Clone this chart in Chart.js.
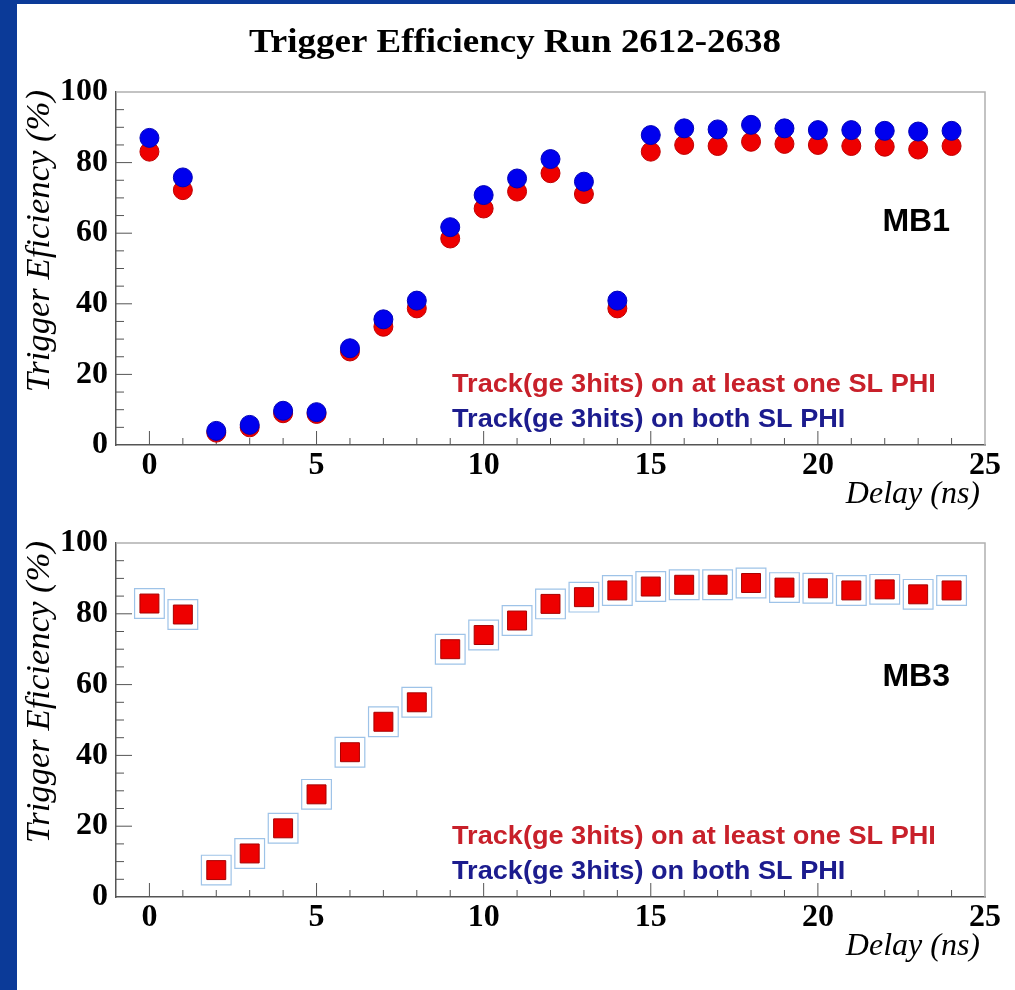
<!DOCTYPE html>
<html><head><meta charset="utf-8">
<script src="https://cdn.jsdelivr.net/npm/chart.js@4.4.1/dist/chart.umd.min.js"></script>
<style>
html,body{margin:0;padding:0;width:1015px;height:990px;overflow:hidden;background:#0b3a98;}
#panel{position:absolute;left:17px;top:4px;width:998px;height:986px;background:#fff;}
.wrap{position:absolute;left:0;width:1015px;}
#w1{top:0;height:515px;}
#w2{top:515px;height:475px;}
canvas{display:block;}
</style></head><body>
<div id="panel"></div>
<div class="wrap" id="w1"><canvas id="c1"></canvas></div>
<div class="wrap" id="w2"><canvas id="c2"></canvas></div>
<script>
// ---- data ----
const delays = [0,1,2,3,4,5,6,7,8,9,10,11,12,13,14,15,16,17,18,19,20,21,22,23,24];
const mb1AtLeastOne = [83.1,72.2,3.5,5.0,9.0,8.8,26.5,33.5,38.7,58.5,67.0,71.8,77.0,71.1,38.7,83.1,85.0,84.7,85.9,85.3,85.0,84.7,84.5,83.7,84.7];
const mb1Both       = [87.0,75.8,4.0,5.7,9.7,9.3,27.4,35.6,40.9,61.7,70.8,75.5,81.0,74.6,40.9,87.8,89.7,89.4,90.7,89.7,89.2,89.2,89.0,88.8,89.0];
const mb3AtLeastOne = [82.9,79.8,7.6,12.3,19.4,29.0,40.9,49.5,55.0,70.0,74.0,78.1,82.8,84.7,86.6,87.7,88.2,88.2,88.7,87.4,87.2,86.6,86.9,85.5,86.6];
const mb3Both       = [82.9,79.8,7.6,12.3,19.4,29.0,40.9,49.5,55.0,70.0,74.0,78.1,82.8,84.7,86.6,87.7,88.2,88.2,88.7,87.4,87.2,86.6,86.9,85.5,86.6];
const xTickValues = [0,5,10,15,20,25];
const yTickValues = [0,20,40,60,80,100];
const mainTitle = 'Trigger Efficiency Run 2612-2638';
const yTitle = 'Trigger Eficiency (%)';
const xTitle = 'Delay (ns)';
const labelAtLeastOne = 'Track(ge 3hits) on at least one SL PHI';
const labelBoth = 'Track(ge 3hits) on both SL PHI';

const toXY = (arr) => delays.map((d,i)=>({x:d, y:arr[i]}));

const tickFont = {family:'Liberation Serif', size:32, weight:'bold'};
function makeScales(xH){
  return {
    x:{type:'linear', min:-1, max:25,
       afterFit(s){ s.height = xH; },
       afterBuildTicks(s){ s.ticks = xTickValues.map(v=>({value:v})); },
       grid:{display:false, drawTicks:false},
       border:{display:true, color:'#555', width:1.5},
       ticks:{autoSkip:false, maxRotation:0, padding:2, color:'#000', font:tickFont}},
    y:{type:'linear', min:0, max:100,
       afterFit(s){ s.width = 116; },
       afterBuildTicks(s){ s.ticks = yTickValues.map(v=>({value:v})); },
       grid:{display:false, drawTicks:false},
       border:{display:true, color:'#555', width:1.5},
       ticks:{padding:8, color:'#000', font:tickFont}}
  };
}

// draw text horizontally stretched by factor sx, anchored at (x,y)
function stretchText(ctx, text, x, y, sx, align){
  ctx.save();
  ctx.translate(x, y);
  ctx.scale(sx, 1);
  ctx.textAlign = align;
  ctx.fillText(text, 0, 0);
  ctx.restore();
}

const decor = {
  id:'decor',
  beforeDatasetsDraw(chart){
    const {ctx, chartArea:a, scales:{x,y}} = chart;
    ctx.save();
    ctx.strokeStyle = '#b0b0b0'; ctx.lineWidth = 1.5;
    ctx.beginPath(); ctx.moveTo(a.left,a.top); ctx.lineTo(a.right,a.top); ctx.lineTo(a.right,a.bottom); ctx.stroke();
    ctx.strokeStyle = '#555'; ctx.lineWidth = 1;
    ctx.beginPath();
    for (let v=0; v<=24; v++){
      const px = x.getPixelForValue(v), L = (v%5===0)?14:7;
      ctx.moveTo(px,a.bottom); ctx.lineTo(px,a.bottom-L);
    }
    for (let v=5; v<100; v+=5){
      const py = y.getPixelForValue(v), L = (v%20===0)?16:8;
      ctx.moveTo(a.left,py); ctx.lineTo(a.left+L,py);
    }
    ctx.stroke();
    ctx.restore();
  },
  afterDraw(chart, args, o){
    const {ctx, chartArea:a} = chart;
    ctx.save();
    ctx.fillStyle = '#000';
    ctx.textBaseline = 'alphabetic';
    if (o.title){
      ctx.font = 'bold 33px "Liberation Serif"';
      stretchText(ctx, mainTitle, 515, 52, 1.12, 'center');
    }
    // y axis title
    ctx.save();
    ctx.translate(40, a.top - 2);
    ctx.rotate(-Math.PI/2);
    ctx.font = 'italic 33px "Liberation Serif"';
    ctx.scale(1.05, 1);
    ctx.textAlign = 'right'; ctx.textBaseline = 'middle';
    ctx.fillText(yTitle, 0, 0);
    ctx.restore();
    // x axis title
    ctx.font = 'italic 32px "Liberation Serif"';
    ctx.textAlign = 'right';
    ctx.fillText(xTitle, a.right - 5, a.bottom + 58);
    // chamber label
    ctx.font = 'bold 32px "Liberation Sans"';
    ctx.fillText(o.chamber, 950, a.top + o.chamberDy);
    // legend lines
    ctx.font = 'bold 25px "Liberation Sans"';
    ctx.fillStyle = '#c8202a';
    stretchText(ctx, labelAtLeastOne, 452, a.bottom - 53, 1.085, 'left');
    ctx.fillStyle = '#1c1c8e';
    stretchText(ctx, labelBoth, 452, a.bottom - 18, 1.085, 'left');
    ctx.restore();
  }
};
Chart.register(decor);

const common = {
  responsive:true, maintainAspectRatio:false, animation:false,
  plugins:{legend:{display:false}, tooltip:{enabled:false}, title:{display:false}}
};

new Chart(document.getElementById('c1'), {
  type:'scatter',
  data:{datasets:[
    {label:labelBoth, data:toXY(mb1Both), pointStyle:'circle', pointRadius:9.5,
     backgroundColor:'#0000ee', borderColor:'#0000b8', borderWidth:1, order:0},
    {label:labelAtLeastOne, data:toXY(mb1AtLeastOne), pointStyle:'circle', pointRadius:9.5,
     backgroundColor:'#ee0000', borderColor:'#c00000', borderWidth:1, order:1}
  ]},
  options:Object.assign({}, common, {
    layout:{padding:{top:92, right:30, left:0, bottom:0}},
    scales:makeScales(70),
    plugins:Object.assign({}, common.plugins, {decor:{title:true, chamber:'MB1', chamberDy:139}})
  })
});

new Chart(document.getElementById('c2'), {
  type:'scatter',
  data:{datasets:[
    {label:labelAtLeastOne, data:toXY(mb3AtLeastOne), pointStyle:'rect', pointRadius:13.4,
     backgroundColor:'#ee0000', borderColor:'#a80000', borderWidth:1, order:0},
    {label:labelBoth, data:toXY(mb3Both), pointStyle:'rect', pointRadius:21,
     backgroundColor:'rgba(0,0,0,0)', borderColor:'#9ec3e8', borderWidth:1.2, order:1}
  ]},
  options:Object.assign({}, common, {
    layout:{padding:{top:28, right:30, left:0, bottom:0}},
    scales:makeScales(93),
    plugins:Object.assign({}, common.plugins, {decor:{title:false, chamber:'MB3', chamberDy:143}})
  })
});
</script>
</body></html>
